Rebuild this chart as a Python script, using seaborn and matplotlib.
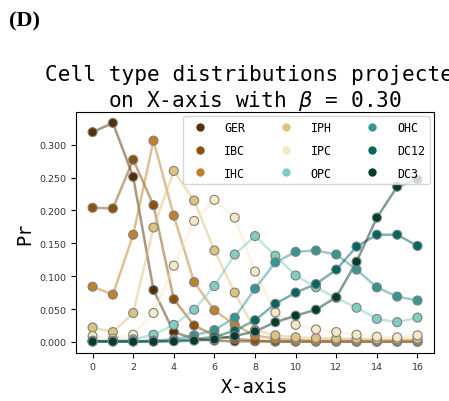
import numpy as np
import pandas as pd
import matplotlib
matplotlib.use("Agg")
import matplotlib.pyplot as plt
import seaborn as sns

x_vals = list(range(17))
cell_types = ["GER", "IBC", "IHC", "IPH", "IPC", "OPC", "OHC", "DC12", "DC3"]

GER = [0.319, 0.333, 0.251, 0.079, 0.015, 0.005, 0.002, 0.001, 0.001, 0.0005, 0.0004, 0.0003, 0.0003, 0.0002, 0.0002, 0.0002, 0.0002]
IBC = [0.204, 0.203, 0.277, 0.208, 0.065, 0.025, 0.010, 0.005, 0.002, 0.001, 0.001, 0.001, 0.001, 0.001, 0.001, 0.001, 0.001]
IHC = [0.084, 0.072, 0.163, 0.306, 0.192, 0.091, 0.048, 0.026, 0.010, 0.005, 0.003, 0.002, 0.002, 0.002, 0.002, 0.002, 0.002]
IPH = [0.022, 0.015, 0.044, 0.174, 0.260, 0.215, 0.139, 0.075, 0.018, 0.010, 0.007, 0.006, 0.005, 0.005, 0.004, 0.004, 0.005]
IPC = [0.009, 0.005, 0.011, 0.044, 0.116, 0.184, 0.216, 0.189, 0.107, 0.045, 0.026, 0.019, 0.015, 0.011, 0.008, 0.007, 0.010]
OPC = [0.002, 0.002, 0.004, 0.011, 0.026, 0.049, 0.085, 0.133, 0.161, 0.131, 0.101, 0.083, 0.067, 0.052, 0.035, 0.030, 0.037]
OHC = [0.001, 0.001, 0.001, 0.002, 0.004, 0.010, 0.018, 0.037, 0.081, 0.121, 0.137, 0.139, 0.133, 0.110, 0.083, 0.069, 0.063]
DC12 = [0.001, 0.001, 0.001, 0.001, 0.002, 0.004, 0.008, 0.017, 0.033, 0.058, 0.075, 0.088, 0.110, 0.145, 0.163, 0.163, 0.146]
DC3 = [0.0005, 0.0005, 0.0005, 0.0005, 0.001, 0.002, 0.004, 0.009, 0.016, 0.030, 0.040, 0.049, 0.068, 0.122, 0.189, 0.236, 0.247]

series = [GER, IBC, IHC, IPH, IPC, OPC, OHC, DC12, DC3]
palette = ["#543005", "#8c510a", "#bf812d", "#dfc27d", "#f6e8c3",
           "#80cdc1", "#35978f", "#01665e", "#003c30"]

rows = []
for name, vals in zip(cell_types, series):
    for xv, yv in zip(x_vals, vals):
        rows.append({"X-axis": xv, "Pr": yv, "type": name})
df = pd.DataFrame(rows)

fig = plt.figure(figsize=(4.49, 4.02), dpi=100)
ax = fig.add_axes([0.170, 0.120, 0.796, 0.599])

sns.lineplot(data=df, x="X-axis", y="Pr", hue="type", hue_order=cell_types,
             palette=palette, alpha=0.5, linewidth=1.8, legend=False, ax=ax, zorder=1)
sns.scatterplot(data=df, x="X-axis", y="Pr", hue="type", hue_order=cell_types,
                palette=palette, s=42, edgecolor="gray", linewidth=0.8, ax=ax, zorder=2)

mono = "DejaVu Sans Mono"
leg = ax.legend(ncol=3, loc="upper right", prop={"family": mono, "size": 8.4},
                handletextpad=1.1, columnspacing=2.5, markerscale=0.8,
                borderaxespad=0.35, labelspacing=0.85, framealpha=0.8)
for h in leg.legend_handles:
    try:
        h.set_markeredgecolor(h.get_markerfacecolor())
    except Exception:
        pass

ax.set_xticks([0, 2, 4, 6, 8, 10, 12, 14, 16])
ax.set_yticks([0.0, 0.05, 0.10, 0.15, 0.20, 0.25, 0.30])
ax.set_yticklabels(["0.000", "0.050", "0.100", "0.150", "0.200", "0.250", "0.300"])
ax.tick_params(labelsize=6.8, labelcolor="#333333")
ax.set_xlabel("X-axis", family=mono, fontsize=13.4)
ax.set_ylabel("Pr", family=mono, fontsize=13.4)
ax.set_title("Cell type distributions projected\non X-axis with $\\beta$ = 0.30",
             family=mono, fontsize=15.2, pad=4)

fig.text(0.02, 0.972, "(D)", family="Liberation Serif", fontweight="bold",
         fontsize=16, va="top", ha="left")

fig.savefig("out.png", dpi=100)
